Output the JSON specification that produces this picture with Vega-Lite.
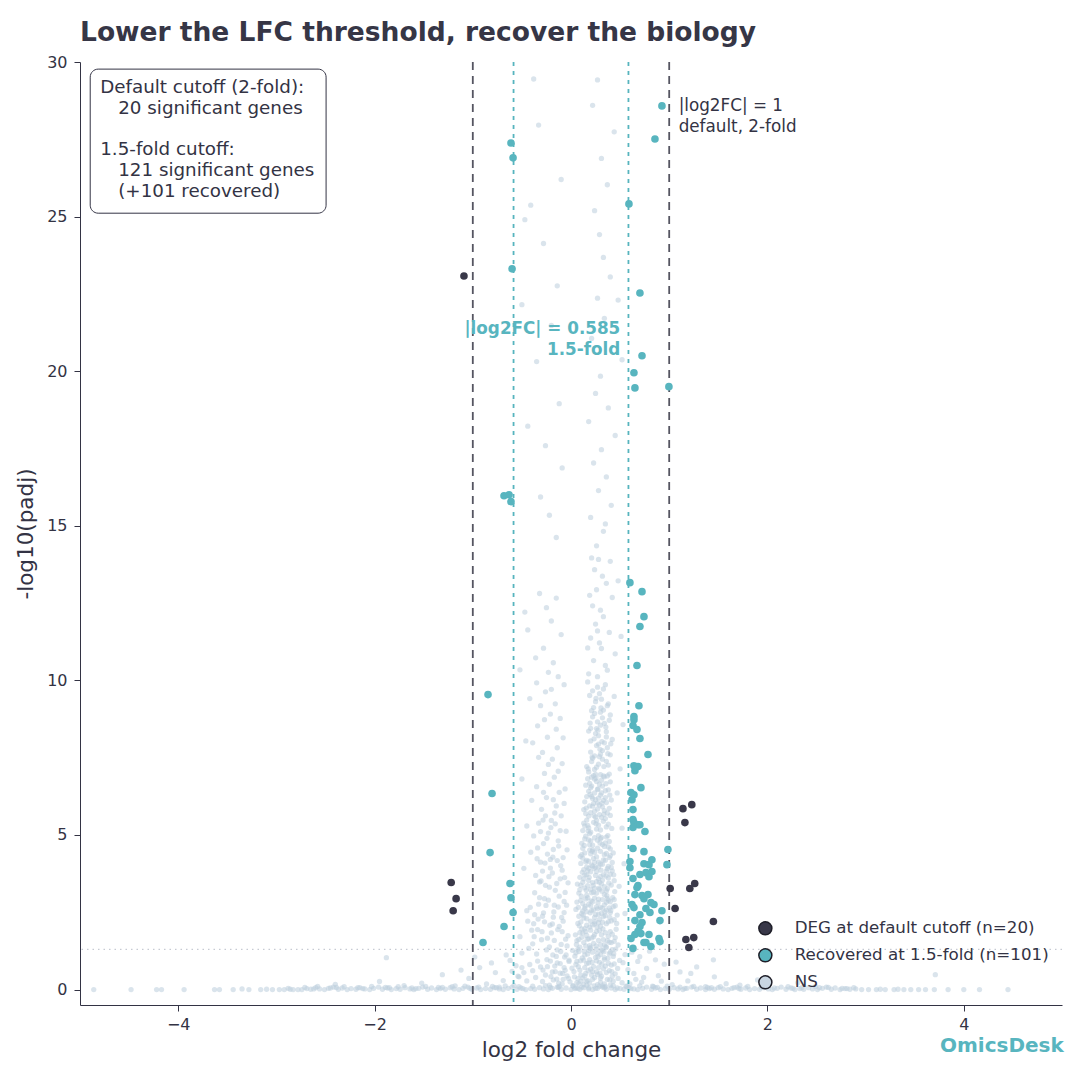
{
  "$schema": "https://vega.github.io/schema/vega-lite/v6.json",
  "autosize": {"type": "none"},
  "width": 982,
  "height": 943,
  "padding": {"left": 80, "top": 62, "right": 18, "bottom": 75},
  "background": "white",
  "title": {
    "text": "Lower the LFC threshold, recover the biology",
    "anchor": "start",
    "frame": "group",
    "font": "DejaVu Sans",
    "fontSize": 26.5,
    "fontWeight": "bold",
    "color": "#363646",
    "offset": 8
  },
  "config": {
    "view": {"stroke": null},
    "font": "DejaVu Sans",
    "axis": {
      "grid": false,
      "domainColor": "#333344",
      "domainWidth": 1,
      "tickColor": "#333344",
      "tickSize": 6,
      "labelColor": "#333344",
      "labelFontSize": 16,
      "labelFont": "DejaVu Sans",
      "titleColor": "#333344",
      "titleFontSize": 21.5,
      "titleFont": "DejaVu Sans",
      "titleFontWeight": "normal"
    }
  },
  "datasets": {
    "ns": [
      {"x":-4.86,"y":0},{"x":-4.48,"y":0},{"x":-4.22,"y":0},{"x":-4.17,"y":0},{"x":-3.94,"y":0},{"x":-3.63,"y":0},{"x":-3.58,"y":0},{"x":-3.44,"y":0},{"x":-3.28,"y":0},{"x":-3.16,"y":0},{"x":-3.04,"y":0},{"x":-2.97,"y":0},{"x":-2.92,"y":0},{"x":-2.86,"y":0.01},{"x":-2.83,"y":0},{"x":-2.78,"y":0},
      {"x":-2.74,"y":0},{"x":-2.69,"y":0.03},{"x":-2.65,"y":0.01},{"x":-2.6,"y":0.06},{"x":-2.56,"y":0.02},{"x":-2.51,"y":0},{"x":-2.47,"y":0.04},{"x":-2.42,"y":0.08},{"x":-2.37,"y":0.01},{"x":-2.33,"y":0.05},
      {"x":-2.28,"y":0},{"x":-2.24,"y":0.03},{"x":-2.19,"y":0.01},{"x":-2.15,"y":0.06},{"x":-2.1,"y":0.02},{"x":-2.05,"y":0},{"x":-2.01,"y":0.04},{"x":-1.96,"y":0.08},{"x":-1.92,"y":0.01},{"x":-1.87,"y":0.05},
      {"x":-1.83,"y":0},{"x":-1.78,"y":0.03},{"x":-1.74,"y":0.01},{"x":-1.69,"y":0.06},{"x":-1.64,"y":0.02},{"x":-1.6,"y":0},{"x":-1.55,"y":0.04},{"x":-1.51,"y":0.08},{"x":-1.46,"y":0.01},{"x":-1.42,"y":0.05},
      {"x":-1.37,"y":0},{"x":-1.33,"y":0.03},{"x":-1.28,"y":0.01},{"x":-1.23,"y":0.06},{"x":-1.19,"y":0.02},{"x":-1.14,"y":0},{"x":-1.1,"y":0.04},{"x":-1.05,"y":0.08},{"x":-1.01,"y":0.01},{"x":-0.96,"y":0.05},
      {"x":-0.92,"y":0},{"x":-0.87,"y":0.03},{"x":-0.82,"y":0.01},{"x":-0.78,"y":0.06},{"x":-0.73,"y":0.02},{"x":-0.69,"y":0},{"x":-0.64,"y":0.04},{"x":-0.6,"y":0.08},{"x":-0.55,"y":0.01},{"x":-0.51,"y":0.05},
      {"x":-0.46,"y":0},{"x":-0.41,"y":0.03},{"x":-0.37,"y":0.01},{"x":-0.32,"y":0.06},{"x":-0.28,"y":0.02},{"x":-0.23,"y":0},{"x":-0.19,"y":0.04},{"x":-0.14,"y":0.08},{"x":-0.1,"y":0.01},{"x":-0.05,"y":0.05},
      {"x":0,"y":0},{"x":0.04,"y":0.03},{"x":0.09,"y":0.01},{"x":0.13,"y":0.06},{"x":0.18,"y":0.02},{"x":0.22,"y":0},{"x":0.27,"y":0.04},{"x":0.32,"y":0.08},{"x":0.36,"y":0.01},{"x":0.41,"y":0.05},
      {"x":0.45,"y":0},{"x":0.5,"y":0.03},{"x":0.54,"y":0.01},{"x":0.59,"y":0.06},{"x":0.64,"y":0.02},{"x":0.68,"y":0},{"x":0.73,"y":0.04},{"x":0.77,"y":0.08},{"x":0.82,"y":0.01},{"x":0.86,"y":0.05},
      {"x":0.91,"y":0},{"x":0.96,"y":0.03},{"x":1,"y":0.01},{"x":1.05,"y":0.06},{"x":1.09,"y":0.02},{"x":1.14,"y":0},{"x":1.18,"y":0.04},{"x":1.23,"y":0.08},{"x":1.28,"y":0.01},{"x":1.32,"y":0.05},
      {"x":1.37,"y":0},{"x":1.41,"y":0.03},{"x":1.46,"y":0.01},{"x":1.5,"y":0.06},{"x":1.55,"y":0.02},{"x":1.6,"y":0},{"x":1.64,"y":0.04},{"x":1.69,"y":0.08},{"x":1.73,"y":0.01},{"x":1.78,"y":0.05},
      {"x":1.82,"y":0},{"x":1.87,"y":0.03},{"x":1.92,"y":0.01},{"x":1.96,"y":0.06},{"x":2.01,"y":0.02},{"x":2.05,"y":0},{"x":2.1,"y":0.04},{"x":2.14,"y":0.08},{"x":2.19,"y":0.01},{"x":2.24,"y":0.05},
      {"x":2.28,"y":0},{"x":2.33,"y":0.03},{"x":2.37,"y":0.01},{"x":2.42,"y":0.06},{"x":2.46,"y":0.02},{"x":2.51,"y":0},{"x":2.56,"y":0.04},{"x":2.6,"y":0.08},{"x":2.65,"y":0.01},{"x":2.69,"y":0.05},
      {"x":2.74,"y":0},{"x":2.79,"y":0.03},{"x":2.84,"y":0.01},{"x":2.9,"y":0.02},
      {"x":2.96,"y":0},{"x":3.03,"y":0},{"x":3.11,"y":0},{"x":3.2,"y":0},{"x":3.29,"y":0},{"x":3.39,"y":0},{"x":3.46,"y":0},{"x":3.54,"y":0},{"x":3.61,"y":0},{"x":3.7,"y":0},{"x":3.84,"y":0},{"x":4.0,"y":0},{"x":4.16,"y":0},{"x":4.45,"y":0},
      {"x":-2.71,"y":0.07},{"x":-2.58,"y":0.1},{"x":-2.45,"y":0.05},{"x":-2.31,"y":0.09},{"x":-2.17,"y":0.06},{"x":-2.03,"y":0.1},{"x":-1.89,"y":0.07},{"x":-1.76,"y":0.09},{"x":-1.62,"y":0.05},{"x":-1.48,"y":0.1},
      {"x":-1.35,"y":0.07},{"x":-1.21,"y":0.09},{"x":-1.08,"y":0.11},{"x":-0.94,"y":0.08},{"x":-0.8,"y":0.1},{"x":-0.67,"y":0.12},{"x":-0.53,"y":0.09},{"x":-0.39,"y":0.11},{"x":-0.26,"y":0.13},{"x":-0.12,"y":0.1},
      {"x":0.02,"y":0.12},{"x":0.16,"y":0.14},{"x":0.29,"y":0.11},{"x":0.43,"y":0.13},{"x":0.57,"y":0.1},{"x":0.7,"y":0.12},{"x":0.84,"y":0.09},{"x":0.98,"y":0.11},{"x":1.11,"y":0.08},{"x":1.25,"y":0.1},
      {"x":1.39,"y":0.07},{"x":1.52,"y":0.09},{"x":1.66,"y":0.06},{"x":1.8,"y":0.1},{"x":1.94,"y":0.07},{"x":2.07,"y":0.05},{"x":2.21,"y":0.09},{"x":2.35,"y":0.06},{"x":2.49,"y":0.1},{"x":2.62,"y":0.07},
      {"x":2.76,"y":0.04},{"x":2.88,"y":0.06},
      {"x":-2.88,"y":0.04},{"x":-2.62,"y":0.02},{"x":-2.39,"y":0.07},{"x":-2.12,"y":0.03},{"x":-1.85,"y":0.06},{"x":-1.58,"y":0.03},{"x":-1.31,"y":0.07},{"x":-1.03,"y":0.04},{"x":-0.76,"y":0.06},{"x":-0.49,"y":0.03},
      {"x":-0.21,"y":0.07},{"x":0.07,"y":0.04},{"x":0.34,"y":0.06},{"x":0.61,"y":0.03},{"x":0.88,"y":0.07},{"x":1.16,"y":0.04},{"x":1.43,"y":0.06},{"x":1.71,"y":0.03},{"x":1.98,"y":0.07},{"x":2.26,"y":0.04},
      {"x":2.53,"y":0.06},{"x":2.81,"y":0.03},{"x":-3.1,"y":0.01},{"x":3.15,"y":0.01},{"x":-3.35,"y":0.02},{"x":3.33,"y":0.01},

      {"x":-1.52,"y":0.21},{"x":-1.31,"y":0.48},{"x":-1.18,"y":0.12},{"x":-1.04,"y":0.36},{"x":-0.93,"y":0.71},{"x":-0.86,"y":0.18},{"x":-0.77,"y":0.55},{"x":-0.69,"y":0.29},{"x":-0.62,"y":0.94},{"x":-0.58,"y":0.13},
      {"x":-0.54,"y":0.43},{"x":-0.66,"y":1.12},{"x":-0.81,"y":0.86},{"x":-0.98,"y":1.05},{"x":-1.12,"y":0.63},{"x":-0.73,"y":0.08},{"x":-0.5,"y":1.18},{"x":-0.56,"y":0.77},{"x":0.6,"y":0.18},{"x":0.64,"y":0.52},
      {"x":0.68,"y":0.91},{"x":0.72,"y":0.24},{"x":0.77,"y":0.68},{"x":0.83,"y":0.11},{"x":0.89,"y":0.45},{"x":0.95,"y":0.82},{"x":1.03,"y":0.16},{"x":1.11,"y":0.57},{"x":1.19,"y":0.28},{"x":1.28,"y":0.73},
      {"x":1.37,"y":0.09},{"x":1.46,"y":0.41},{"x":1.58,"y":0.19},{"x":0.62,"y":1.21},{"x":0.7,"y":1.06},{"x":0.8,"y":1.24},{"x":0.58,"y":0.64},{"x":0.74,"y":0.39},{"x":0.86,"y":0.96},{"x":0.92,"y":0.27},
      {"x":1.07,"y":0.89},{"x":1.22,"y":0.52},{"x":1.72,"y":0.14},{"x":1.9,"y":0.31},{"x":-1.7,"y":0.13},{"x":-1.95,"y":0.26},{"x":0.55,"y":1.13},{"x":0.66,"y":0.33},{"x":0.53,"y":0.87},{"x":-0.6,"y":0.59},
      {"x":-1.88,"y":1.03},{"x":3.71,"y":0.48},{"x":1.45,"y":0.96},{"x":2.31,"y":0.22},{"x":-2.4,"y":0.17},

      {"x":0.02,"y":0.12},{"x":0.07,"y":0.35},{"x":0.11,"y":0.08},{"x":0.15,"y":0.52},{"x":0.19,"y":0.21},{"x":0.23,"y":0.74},{"x":0.27,"y":0.16},{"x":0.31,"y":0.43},{"x":0.35,"y":0.09},{"x":0.39,"y":0.61},
      {"x":0.43,"y":0.27},{"x":0.47,"y":0.05},{"x":-0.04,"y":0.44},{"x":-0.09,"y":0.18},{"x":-0.13,"y":0.07},{"x":0.05,"y":0.81},{"x":0.13,"y":0.95},{"x":0.21,"y":0.47},{"x":0.29,"y":0.88},{"x":0.37,"y":0.33},
      {"x":0.41,"y":0.79},{"x":0.09,"y":0.63},{"x":0.17,"y":0.29},{"x":0.25,"y":0.04},{"x":0.33,"y":0.67},{"x":0.45,"y":0.51},{"x":0.01,"y":0.69},{"x":-0.02,"y":0.91},{"x":0.52,"y":0.22},{"x":0.56,"y":0.11},
      {"x":-0.18,"y":0.31},{"x":-0.22,"y":0.14},{"x":0.12,"y":0.38},{"x":0.18,"y":0.86},{"x":0.26,"y":0.57},{"x":0.34,"y":0.97},{"x":0.08,"y":0.19},{"x":0.22,"y":0.33},{"x":0.3,"y":0.24},{"x":0.4,"y":0.14},
      {"x":0.06,"y":0.22},{"x":0.1,"y":0.47},{"x":0.14,"y":0.71},{"x":0.18,"y":0.06},{"x":0.22,"y":0.58},{"x":0.26,"y":0.93},{"x":0.3,"y":0.37},{"x":0.34,"y":0.18},{"x":0.38,"y":0.85},{"x":0.42,"y":0.43},
      {"x":0.03,"y":0.58},{"x":0.06,"y":0.91},{"x":0.1,"y":0.27},{"x":0.13,"y":0.16},{"x":0.16,"y":0.84},{"x":0.2,"y":0.66},{"x":0.24,"y":0.39},{"x":0.28,"y":0.71},{"x":0.32,"y":0.12},{"x":0.36,"y":0.55},
      {"x":0.44,"y":0.83},{"x":0.48,"y":0.36},{"x":-0.01,"y":0.25},{"x":-0.07,"y":0.71},{"x":-0.11,"y":0.53},{"x":0.05,"y":0.06},{"x":0.14,"y":0.44},{"x":0.19,"y":0.97},{"x":0.27,"y":0.49},{"x":0.35,"y":0.76},
      {"x":0.035,"y":0.41},{"x":0.075,"y":0.74},{"x":0.115,"y":1.02},{"x":0.155,"y":0.27},{"x":0.195,"y":1.33},{"x":0.235,"y":0.12},{"x":0.275,"y":1.06},{"x":0.315,"y":0.82},{"x":0.355,"y":1.39},{"x":0.395,"y":0.31},
      {"x":0.435,"y":1.16},{"x":0.475,"y":0.68},{"x":0.015,"y":1.27},{"x":0.055,"y":1.46},{"x":0.095,"y":0.93},{"x":0.135,"y":1.24},{"x":0.175,"y":0.61},{"x":0.215,"y":0.88},{"x":0.255,"y":1.41},{"x":0.295,"y":0.53},
      {"x":0.335,"y":1.22},{"x":0.375,"y":1.01},{"x":0.415,"y":0.58},{"x":0.455,"y":1.31},{"x":0.495,"y":0.94},{"x":-0.025,"y":0.36},{"x":-0.065,"y":1.05},{"x":-0.105,"y":1.23},{"x":-0.145,"y":0.34},{"x":-0.185,"y":1.12},

      {"x":0.04,"y":1.08},{"x":0.09,"y":1.37},{"x":0.14,"y":1.12},{"x":0.18,"y":1.64},{"x":0.22,"y":1.21},{"x":0.26,"y":1.88},{"x":0.3,"y":1.45},{"x":0.34,"y":1.03},{"x":0.38,"y":1.72},{"x":0.42,"y":1.29},
      {"x":0.46,"y":1.95},{"x":0.07,"y":2.14},{"x":0.11,"y":2.46},{"x":0.16,"y":2.08},{"x":0.2,"y":2.71},{"x":0.24,"y":2.33},{"x":0.28,"y":2.92},{"x":0.32,"y":2.18},{"x":0.36,"y":2.57},{"x":0.4,"y":2.84},
      {"x":0.44,"y":2.26},{"x":0.06,"y":1.58},{"x":0.12,"y":1.83},{"x":0.19,"y":2.02},{"x":0.23,"y":1.49},{"x":0.27,"y":2.61},{"x":0.31,"y":1.77},{"x":0.35,"y":2.39},{"x":0.39,"y":1.16},{"x":0.43,"y":2.68},
      {"x":0.1,"y":2.88},{"x":0.15,"y":1.41},{"x":0.21,"y":2.55},{"x":0.25,"y":1.04},{"x":0.29,"y":2.27},{"x":0.33,"y":1.61},{"x":0.37,"y":2.95},{"x":0.41,"y":1.52},{"x":0.13,"y":2.31},{"x":0.17,"y":2.97},
      {"x":0.08,"y":1.23},{"x":0.26,"y":1.31},{"x":0.34,"y":2.74},{"x":0.48,"y":1.44},{"x":0.05,"y":2.59},{"x":0.2,"y":1.92},{"x":0.3,"y":2.05},{"x":0.38,"y":2.19},{"x":0.45,"y":1.68},{"x":0.14,"y":2.63},
      {"x":0.22,"y":2.84},{"x":0.18,"y":1.27},{"x":0.28,"y":1.59},{"x":0.32,"y":2.91},{"x":0.36,"y":1.36},{"x":0.11,"y":1.96},{"x":0.24,"y":2.12},{"x":0.4,"y":1.87},{"x":0.16,"y":1.75},{"x":0.3,"y":2.66},
      {"x":0.07,"y":1.31},{"x":0.11,"y":1.69},{"x":0.15,"y":1.88},{"x":0.19,"y":1.42},{"x":0.23,"y":1.71},{"x":0.27,"y":1.17},{"x":0.31,"y":1.29},{"x":0.35,"y":1.84},{"x":0.39,"y":1.53},{"x":0.43,"y":1.07},
      {"x":0.08,"y":2.37},{"x":0.12,"y":2.78},{"x":0.16,"y":2.52},{"x":0.2,"y":2.21},{"x":0.24,"y":2.96},{"x":0.28,"y":2.43},{"x":0.32,"y":2.63},{"x":0.36,"y":2.13},{"x":0.4,"y":2.49},{"x":0.44,"y":2.91},
      {"x":0.05,"y":1.19},{"x":0.09,"y":1.84},{"x":0.13,"y":1.52},{"x":0.17,"y":1.15},{"x":0.21,"y":1.67},{"x":0.25,"y":2.43},{"x":0.29,"y":1.91},{"x":0.33,"y":2.36},{"x":0.37,"y":1.58},{"x":0.41,"y":2.22},
      {"x":0.45,"y":2.71},{"x":0.06,"y":2.83},{"x":0.1,"y":2.19},{"x":0.14,"y":1.97},{"x":0.18,"y":2.76},{"x":0.22,"y":2.09},{"x":0.26,"y":2.67},{"x":0.3,"y":1.13},{"x":0.34,"y":1.44},{"x":0.38,"y":2.89},
      {"x":0.42,"y":1.79},{"x":0.47,"y":2.41},{"x":0.08,"y":1.62},{"x":0.12,"y":2.54},{"x":0.16,"y":2.29},{"x":0.2,"y":1.36},{"x":0.24,"y":1.78},{"x":0.28,"y":2.16},{"x":0.32,"y":1.26},{"x":0.36,"y":2.82},
      {"x":0.4,"y":1.21},{"x":0.44,"y":1.56},{"x":0.15,"y":2.93},{"x":0.23,"y":2.58},{"x":0.31,"y":2.47},{"x":0.39,"y":2.64},
      {"x":0.045,"y":1.77},{"x":0.085,"y":2.06},{"x":0.125,"y":2.41},{"x":0.165,"y":1.63},{"x":0.205,"y":2.87},{"x":0.245,"y":2.19},{"x":0.285,"y":3.28},{"x":0.325,"y":1.96},{"x":0.365,"y":3.04},{"x":0.405,"y":2.56},
      {"x":0.445,"y":3.17},{"x":0.065,"y":3.41},{"x":0.105,"y":3.02},{"x":0.145,"y":2.69},{"x":0.185,"y":3.63},{"x":0.225,"y":3.37},{"x":0.265,"y":2.02},{"x":0.305,"y":3.86},{"x":0.345,"y":2.51},{"x":0.385,"y":3.44},
      {"x":0.425,"y":2.97},{"x":0.465,"y":2.14},{"x":0.075,"y":2.66},{"x":0.115,"y":3.79},{"x":0.155,"y":3.21},{"x":0.195,"y":2.48},{"x":0.235,"y":3.92},{"x":0.275,"y":2.81},{"x":0.315,"y":3.18},{"x":0.355,"y":3.67},
      {"x":0.395,"y":2.33},{"x":0.435,"y":3.71},

      {"x":0.08,"y":3.12},{"x":0.12,"y":3.47},{"x":0.16,"y":3.05},{"x":0.2,"y":3.81},{"x":0.24,"y":3.28},{"x":0.28,"y":3.96},{"x":0.32,"y":3.54},{"x":0.36,"y":3.19},{"x":0.4,"y":3.73},{"x":0.1,"y":4.08},
      {"x":0.14,"y":4.42},{"x":0.18,"y":4.15},{"x":0.22,"y":4.67},{"x":0.26,"y":4.29},{"x":0.3,"y":4.88},{"x":0.34,"y":4.36},{"x":0.38,"y":4.61},{"x":0.42,"y":4.11},{"x":0.09,"y":3.63},{"x":0.13,"y":3.88},
      {"x":0.17,"y":3.36},{"x":0.21,"y":4.02},{"x":0.25,"y":3.69},{"x":0.29,"y":3.24},{"x":0.33,"y":4.19},{"x":0.37,"y":3.91},{"x":0.41,"y":3.38},{"x":0.11,"y":4.73},{"x":0.15,"y":4.96},{"x":0.19,"y":4.51},
      {"x":0.23,"y":3.15},{"x":0.27,"y":4.83},{"x":0.31,"y":3.42},{"x":0.35,"y":4.74},{"x":0.39,"y":4.27},{"x":0.16,"y":3.71},{"x":0.2,"y":4.39},{"x":0.24,"y":4.91},{"x":0.28,"y":3.58},{"x":0.32,"y":4.05},
      {"x":0.36,"y":3.83},{"x":0.18,"y":4.84},{"x":0.26,"y":3.49},{"x":0.3,"y":4.47},{"x":0.22,"y":3.99},{"x":0.14,"y":3.29},{"x":0.34,"y":3.07},{"x":0.12,"y":4.25},{"x":0.4,"y":4.55},{"x":0.44,"y":3.52},
      {"x":0.1,"y":3.37},{"x":0.14,"y":3.71},{"x":0.18,"y":3.92},{"x":0.22,"y":3.46},{"x":0.26,"y":3.12},{"x":0.3,"y":3.66},{"x":0.34,"y":3.33},{"x":0.38,"y":3.98},{"x":0.42,"y":3.84},{"x":0.12,"y":4.57},
      {"x":0.16,"y":4.18},{"x":0.2,"y":4.81},{"x":0.24,"y":4.44},{"x":0.28,"y":4.12},{"x":0.32,"y":4.69},{"x":0.36,"y":4.93},{"x":0.4,"y":4.33},
      {"x":0.09,"y":3.23},{"x":0.13,"y":3.58},{"x":0.17,"y":3.84},{"x":0.21,"y":3.13},{"x":0.25,"y":3.96},{"x":0.29,"y":3.47},{"x":0.33,"y":3.71},{"x":0.37,"y":3.26},{"x":0.41,"y":3.95},{"x":0.11,"y":4.36},
      {"x":0.15,"y":4.13},{"x":0.19,"y":4.68},{"x":0.23,"y":4.24},{"x":0.27,"y":4.57},{"x":0.31,"y":4.92},{"x":0.35,"y":4.18},{"x":0.39,"y":4.79},{"x":0.43,"y":4.42},{"x":0.14,"y":4.87},{"x":0.22,"y":4.52},
      {"x":0.3,"y":4.06},{"x":0.38,"y":3.61},{"x":0.18,"y":3.53},{"x":0.26,"y":3.82},{"x":0.34,"y":4.63},{"x":0.2,"y":3.24},{"x":0.28,"y":4.98},{"x":0.36,"y":4.4},{"x":0.16,"y":3.97},{"x":0.24,"y":4.11},
      {"x":0.095,"y":4.31},{"x":0.135,"y":4.66},{"x":0.175,"y":5.13},{"x":0.215,"y":4.47},{"x":0.255,"y":5.36},{"x":0.295,"y":4.74},{"x":0.335,"y":5.67},{"x":0.375,"y":4.98},{"x":0.415,"y":5.21},

      {"x":0.12,"y":5.14},{"x":0.16,"y":5.48},{"x":0.2,"y":5.09},{"x":0.24,"y":5.77},{"x":0.28,"y":5.32},{"x":0.32,"y":5.91},{"x":0.36,"y":5.26},{"x":0.4,"y":5.63},{"x":0.14,"y":6.07},{"x":0.18,"y":6.41},
      {"x":0.22,"y":6.18},{"x":0.26,"y":6.73},{"x":0.3,"y":6.29},{"x":0.34,"y":6.88},{"x":0.38,"y":6.46},{"x":0.15,"y":5.69},{"x":0.19,"y":5.94},{"x":0.23,"y":5.41},{"x":0.27,"y":6.03},{"x":0.31,"y":5.57},
      {"x":0.35,"y":6.21},{"x":0.39,"y":5.86},{"x":0.17,"y":6.82},{"x":0.21,"y":6.58},{"x":0.25,"y":6.96},{"x":0.29,"y":6.64},{"x":0.33,"y":6.12},{"x":0.37,"y":6.91},{"x":0.2,"y":5.72},{"x":0.26,"y":5.19},
      {"x":0.3,"y":6.95},{"x":0.24,"y":6.36},{"x":0.13,"y":5.38},{"x":0.41,"y":6.13},{"x":0.18,"y":5.23},{"x":0.13,"y":5.82},{"x":0.17,"y":5.31},{"x":0.21,"y":6.24},{"x":0.25,"y":5.58},{"x":0.29,"y":5.97},
      {"x":0.33,"y":5.44},{"x":0.37,"y":5.71},{"x":0.19,"y":6.67},{"x":0.23,"y":6.92},{"x":0.27,"y":6.47},{"x":0.31,"y":6.77},{"x":0.35,"y":6.43},
      {"x":0.14,"y":5.29},{"x":0.18,"y":5.61},{"x":0.22,"y":5.93},{"x":0.26,"y":5.47},{"x":0.3,"y":5.16},{"x":0.34,"y":5.79},{"x":0.38,"y":5.35},{"x":0.16,"y":6.24},{"x":0.2,"y":6.53},{"x":0.24,"y":6.81},
      {"x":0.28,"y":6.19},{"x":0.32,"y":6.58},{"x":0.36,"y":6.05},{"x":0.4,"y":6.72},{"x":0.15,"y":6.61},{"x":0.19,"y":5.04},{"x":0.23,"y":6.02},{"x":0.27,"y":5.84},{"x":0.31,"y":6.36},{"x":0.35,"y":5.53},
      {"x":0.39,"y":6.97},{"x":0.21,"y":6.87},{"x":0.29,"y":5.66},{"x":0.33,"y":6.91},{"x":0.25,"y":6.14},
      {"x":0.155,"y":5.87},{"x":0.195,"y":6.31},{"x":0.235,"y":5.62},{"x":0.275,"y":6.49},{"x":0.315,"y":6.03},{"x":0.355,"y":6.66},{"x":0.395,"y":6.29},

      {"x":0.16,"y":7.21},{"x":0.2,"y":7.68},{"x":0.24,"y":7.12},{"x":0.28,"y":7.94},{"x":0.32,"y":7.45},{"x":0.36,"y":8.17},{"x":0.4,"y":7.59},{"x":0.18,"y":8.36},{"x":0.22,"y":8.82},{"x":0.26,"y":8.44},
      {"x":0.3,"y":8.97},{"x":0.34,"y":8.61},{"x":0.38,"y":9.24},{"x":0.42,"y":8.09},{"x":0.19,"y":9.51},{"x":0.23,"y":9.12},{"x":0.27,"y":9.78},{"x":0.31,"y":9.39},{"x":0.35,"y":9.86},{"x":0.21,"y":7.37},
      {"x":0.25,"y":8.28},{"x":0.29,"y":7.53},{"x":0.33,"y":9.04},{"x":0.37,"y":7.82},{"x":0.17,"y":9.95},{"x":0.44,"y":9.48},{"x":0.26,"y":7.89},{"x":0.3,"y":8.55},{"x":0.22,"y":9.66},{"x":0.39,"y":8.71},
      {"x":0.28,"y":7.29},{"x":0.24,"y":7.56},{"x":0.32,"y":7.73},{"x":0.2,"y":8.04},{"x":0.36,"y":7.38},
      {"x":0.18,"y":7.04},{"x":0.22,"y":7.48},{"x":0.26,"y":7.19},{"x":0.3,"y":7.61},{"x":0.34,"y":7.98},{"x":0.38,"y":7.26},{"x":0.2,"y":8.45},{"x":0.24,"y":8.93},{"x":0.28,"y":8.21},{"x":0.32,"y":8.79},
      {"x":0.36,"y":8.34},{"x":0.4,"y":8.88},{"x":0.25,"y":9.31},{"x":0.29,"y":9.57},{"x":0.33,"y":9.72},{"x":0.37,"y":9.18},{"x":0.21,"y":9.02},{"x":0.27,"y":8.66},
      {"x":0.175,"y":7.14},{"x":0.215,"y":7.52},{"x":0.255,"y":6.84},{"x":0.295,"y":7.77},{"x":0.335,"y":7.21},{"x":0.375,"y":7.63},{"x":0.235,"y":8.11},{"x":0.275,"y":8.39},{"x":0.315,"y":8.02},{"x":0.355,"y":8.49},
      {"x":0.255,"y":9.42},{"x":0.305,"y":9.11},{"x":0.195,"y":8.62},{"x":0.405,"y":7.95},

      {"x":0.18,"y":10.21},{"x":0.23,"y":10.64},{"x":0.27,"y":10.12},{"x":0.31,"y":11.03},{"x":0.35,"y":10.48},{"x":0.2,"y":11.37},{"x":0.25,"y":11.82},{"x":0.29,"y":11.21},{"x":0.33,"y":12.06},{"x":0.39,"y":11.55},
      {"x":0.22,"y":12.41},{"x":0.26,"y":12.93},{"x":0.3,"y":12.27},{"x":0.36,"y":13.14},{"x":0.42,"y":12.68},{"x":0.24,"y":13.58},{"x":0.28,"y":13.91},{"x":0.32,"y":13.37},{"x":0.19,"y":12.75},{"x":0.45,"y":10.86},
      {"x":0.17,"y":11.05},{"x":0.37,"y":10.33},{"x":0.27,"y":11.6},{"x":0.48,"y":13.22},{"x":0.21,"y":13.96},

      {"x":0.26,"y":14.35},{"x":0.33,"y":14.82},{"x":0.2,"y":15.27},{"x":0.41,"y":15.66},{"x":0.28,"y":16.14},{"x":0.36,"y":16.58},{"x":0.23,"y":17.03},{"x":0.31,"y":17.46},{"x":0.45,"y":17.92},{"x":0.18,"y":18.37},
      {"x":0.38,"y":18.81},{"x":0.25,"y":19.28},{"x":0.3,"y":19.84},{"x":0.52,"y":20.37},{"x":0.21,"y":21.06},{"x":0.34,"y":21.71},{"x":0.27,"y":22.36},{"x":0.4,"y":23.05},{"x":0.33,"y":23.68},{"x":0.29,"y":24.42},
      {"x":0.24,"y":25.19},{"x":0.37,"y":26.03},{"x":0.31,"y":26.88},{"x":0.44,"y":27.74},{"x":0.27,"y":29.42},{"x":0.22,"y":28.6},{"x":0.35,"y":15.06},{"x":0.4,"y":13.85},{"x":-0.15,"y":14.62},{"x":-0.22,"y":15.34},
      {"x":-0.31,"y":15.93},{"x":-0.09,"y":16.87},{"x":-0.26,"y":17.59},{"x":-0.44,"y":18.22},{"x":-0.12,"y":18.95},{"x":-0.35,"y":20.31},{"x":-0.2,"y":21.48},{"x":-0.5,"y":22.15},{"x":-0.14,"y":22.76},{"x":-0.28,"y":24.13},
      {"x":-0.41,"y":25.37},{"x":-0.33,"y":27.96},{"x":-0.38,"y":29.45},{"x":-0.1,"y":26.2},{"x":-0.47,"y":24.9},{"x":0.48,"y":22.3},

      {"x":-0.05,"y":1.12},{"x":-0.1,"y":1.46},{"x":-0.15,"y":1.07},{"x":-0.2,"y":1.83},{"x":-0.25,"y":1.28},{"x":-0.3,"y":1.61},{"x":-0.35,"y":1.15},{"x":-0.4,"y":1.92},{"x":-0.08,"y":2.21},{"x":-0.13,"y":2.67},
      {"x":-0.18,"y":2.34},{"x":-0.23,"y":2.89},{"x":-0.28,"y":2.48},{"x":-0.33,"y":2.76},{"x":-0.38,"y":2.13},{"x":-0.45,"y":2.55},{"x":-0.06,"y":0.62},{"x":-0.11,"y":0.84},{"x":-0.16,"y":0.58},{"x":-0.21,"y":0.92},
      {"x":-0.26,"y":0.47},{"x":-0.31,"y":0.73},{"x":-0.36,"y":0.39},{"x":-0.42,"y":0.81},{"x":-0.48,"y":0.55},{"x":-0.03,"y":1.74},{"x":-0.12,"y":2.04},{"x":-0.22,"y":1.38},{"x":-0.27,"y":2.19},{"x":-0.32,"y":2.97},
      {"x":-0.07,"y":2.85},{"x":-0.17,"y":1.59},{"x":-0.37,"y":2.42},{"x":-0.43,"y":1.33},{"x":-0.52,"y":1.71},
      {"x":-0.06,"y":3.14},{"x":-0.11,"y":3.58},{"x":-0.16,"y":3.21},{"x":-0.21,"y":3.93},{"x":-0.26,"y":3.37},{"x":-0.31,"y":4.12},{"x":-0.36,"y":3.69},{"x":-0.41,"y":4.44},{"x":-0.08,"y":4.27},{"x":-0.13,"y":4.81},
      {"x":-0.18,"y":4.53},{"x":-0.23,"y":5.06},{"x":-0.28,"y":4.72},{"x":-0.33,"y":5.38},{"x":-0.38,"y":4.97},{"x":-0.1,"y":5.62},{"x":-0.15,"y":5.94},{"x":-0.2,"y":5.47},{"x":-0.25,"y":6.21},{"x":-0.3,"y":5.83},
      {"x":-0.35,"y":6.56},{"x":-0.12,"y":6.38},{"x":-0.17,"y":6.87},{"x":-0.22,"y":6.64},{"x":-0.27,"y":6.99},{"x":-0.4,"y":6.12},{"x":-0.05,"y":5.12},{"x":-0.07,"y":6.02},{"x":-0.45,"y":5.29},{"x":-0.19,"y":3.77},
      {"x":-0.09,"y":7.31},{"x":-0.14,"y":7.82},{"x":-0.19,"y":7.45},{"x":-0.24,"y":8.16},{"x":-0.29,"y":7.67},{"x":-0.34,"y":8.53},{"x":-0.39,"y":7.98},{"x":-0.11,"y":8.77},{"x":-0.16,"y":9.24},{"x":-0.21,"y":8.91},
      {"x":-0.26,"y":9.63},{"x":-0.31,"y":9.18},{"x":-0.13,"y":10.12},{"x":-0.18,"y":10.57},{"x":-0.23,"y":10.26},{"x":-0.28,"y":11.04},{"x":-0.36,"y":10.73},{"x":-0.1,"y":11.48},{"x":-0.2,"y":11.92},{"x":-0.25,"y":12.35},
      {"x":-0.32,"y":12.81},{"x":-0.15,"y":12.66},{"x":-0.07,"y":9.86},{"x":-0.42,"y":9.41},{"x":-0.44,"y":11.63},
      {"x":-0.04,"y":1.41},{"x":-0.09,"y":1.87},{"x":-0.14,"y":1.28},{"x":-0.19,"y":2.12},{"x":-0.24,"y":1.66},{"x":-0.29,"y":2.37},{"x":-0.34,"y":1.94},{"x":-0.39,"y":1.48},{"x":-0.44,"y":2.21},{"x":-0.07,"y":2.49},
      {"x":-0.12,"y":3.02},{"x":-0.17,"y":2.73},{"x":-0.22,"y":3.31},{"x":-0.27,"y":2.94},{"x":-0.32,"y":3.48},{"x":-0.37,"y":3.13},{"x":-0.09,"y":3.86},{"x":-0.14,"y":4.17},{"x":-0.24,"y":4.38},{"x":-0.29,"y":3.83},
      {"x":-0.34,"y":4.58},{"x":-0.04,"y":4.52},{"x":-0.11,"y":5.14},{"x":-0.16,"y":5.36},{"x":-0.21,"y":4.21},{"x":-0.26,"y":5.62},{"x":-0.31,"y":5.11},{"x":-0.06,"y":6.49},{"x":-0.13,"y":7.06},{"x":-0.18,"y":6.14},
      {"x":-0.23,"y":7.28},{"x":-0.28,"y":6.38},{"x":-0.33,"y":7.51},{"x":-0.08,"y":8.14},{"x":-0.15,"y":8.42},{"x":-0.2,"y":9.71},{"x":-0.27,"y":8.73},{"x":-0.35,"y":9.92},{"x":-0.03,"y":3.45},{"x":-0.02,"y":0.95},
      {"x":-0.08,"y":0.33},{"x":-0.14,"y":0.86},{"x":-0.19,"y":0.57},{"x":-0.24,"y":0.74},{"x":-0.29,"y":0.26},{"x":-0.34,"y":0.92},{"x":-0.39,"y":0.61},{"x":-0.45,"y":0.28},{"x":-0.5,"y":0.71},{"x":-0.53,"y":0.41},
      {"x":-0.48,"y":3.92},{"x":-0.5,"y":6.81},{"x":-0.46,"y":8.04},{"x":-0.52,"y":10.34},{"x":-0.47,"y":12.21},{"x":0.49,"y":3.34},{"x":0.52,"y":5.22},{"x":0.5,"y":7.14},{"x":0.53,"y":8.57},{"x":0.51,"y":11.42},
      {"x":0.47,"y":6.36},{"x":0.55,"y":2.46},{"x":0.54,"y":4.07},
      {"x":-0.055,"y":1.63},{"x":-0.095,"y":2.33},{"x":-0.135,"y":1.94},{"x":-0.175,"y":2.51},{"x":-0.215,"y":2.08},{"x":-0.255,"y":2.72},{"x":-0.295,"y":1.87},{"x":-0.335,"y":2.28},{"x":-0.375,"y":1.71},{"x":-0.415,"y":2.66},
      {"x":-0.065,"y":3.62},{"x":-0.105,"y":4.01},{"x":-0.145,"y":3.43},{"x":-0.185,"y":4.28},{"x":-0.225,"y":3.65},{"x":-0.265,"y":4.09},{"x":-0.305,"y":3.51},{"x":-0.345,"y":4.23},{"x":-0.125,"y":4.64},{"x":-0.165,"y":5.71},
      {"x":-0.205,"y":5.24},{"x":-0.245,"y":4.89},{"x":-0.285,"y":5.48},{"x":-0.045,"y":2.73},{"x":-0.085,"y":0.52},{"x":-0.125,"y":0.21},{"x":-0.165,"y":0.76},{"x":-0.205,"y":0.42},{"x":-0.245,"y":0.97},{"x":-0.285,"y":0.63}
    ],
    "sig": [
      {"x":-1.09,"y":23.08,"g":"D"},{"x":-1.22,"y":3.46,"g":"D"},{"x":-1.17,"y":2.94,"g":"D"},{"x":-1.2,"y":2.55,"g":"D"},{"x":1.14,"y":5.85,"g":"D"},
      {"x":1.23,"y":5.98,"g":"D"},{"x":1.16,"y":5.4,"g":"D"},{"x":1.01,"y":3.27,"g":"D"},{"x":1.21,"y":3.27,"g":"D"},{"x":1.26,"y":3.43,"g":"D"},
      {"x":1.06,"y":2.62,"g":"D"},{"x":1.45,"y":2.2,"g":"D"},{"x":1.17,"y":1.62,"g":"D"},{"x":1.25,"y":1.68,"g":"D"},{"x":1.2,"y":1.36,"g":"D"},

      {"x":0.926,"y":28.58,"g":"R"},{"x":0.855,"y":27.51,"g":"R"},{"x":-0.611,"y":27.38,"g":"R"},{"x":-0.59,"y":26.9,"g":"R"},{"x":0.59,"y":25.41,"g":"R"},
      {"x":-0.6,"y":23.31,"g":"R"},{"x":0.702,"y":22.53,"g":"R"},{"x":0.723,"y":20.5,"g":"R"},{"x":0.641,"y":19.95,"g":"R"},{"x":0.651,"y":19.46,"g":"R"},
      {"x":0.997,"y":19.5,"g":"R"},{"x":-0.682,"y":15.97,"g":"R"},{"x":-0.631,"y":16.0,"g":"R"},{"x":-0.611,"y":15.78,"g":"R"},{"x":0.6,"y":13.16,"g":"R"},
      {"x":0.723,"y":12.87,"g":"R"},{"x":0.743,"y":12.06,"g":"R"},{"x":0.702,"y":11.74,"g":"R"},{"x":0.672,"y":10.48,"g":"R"},{"x":-0.845,"y":9.54,"g":"R"},
      {"x":0.692,"y":9.18,"g":"R"},{"x":0.641,"y":8.83,"g":"R"},{"x":0.641,"y":8.73,"g":"R"},{"x":0.631,"y":8.54,"g":"R"},{"x":0.672,"y":8.41,"g":"R"},
      {"x":0.702,"y":8.12,"g":"R"},{"x":0.784,"y":7.6,"g":"R"},{"x":0.641,"y":7.24,"g":"R"},{"x":0.682,"y":7.21,"g":"R"},{"x":0.651,"y":7.08,"g":"R"},
      {"x":0.712,"y":6.53,"g":"R"},{"x":-0.804,"y":6.34,"g":"R"},{"x":0.611,"y":6.37,"g":"R"},{"x":0.641,"y":6.3,"g":"R"},{"x":0.621,"y":6.14,"g":"R"},
      {"x":0.631,"y":5.82,"g":"R"},{"x":0.631,"y":5.5,"g":"R"},{"x":0.641,"y":5.4,"g":"R"},{"x":0.682,"y":5.33,"g":"R"},{"x":0.702,"y":5.33,"g":"R"},
      {"x":0.631,"y":5.24,"g":"R"},{"x":0.753,"y":5.11,"g":"R"},{"x":0.631,"y":4.56,"g":"R"},{"x":0.743,"y":4.46,"g":"R"},{"x":0.987,"y":4.53,"g":"R"},
      {"x":0.6,"y":4.14,"g":"R"},{"x":0.824,"y":4.2,"g":"R"},{"x":0.743,"y":4.07,"g":"R"},{"x":0.794,"y":4.04,"g":"R"},{"x":0.6,"y":3.94,"g":"R"},
      {"x":0.977,"y":4.04,"g":"R"},{"x":0.763,"y":3.78,"g":"R"},{"x":0.824,"y":3.82,"g":"R"},{"x":0.702,"y":3.72,"g":"R"},{"x":0.794,"y":3.65,"g":"R"},
      {"x":0.631,"y":3.59,"g":"R"},{"x":0.682,"y":3.36,"g":"R"},{"x":0.672,"y":3.3,"g":"R"},{"x":0.651,"y":3.07,"g":"R"},{"x":0.723,"y":3.04,"g":"R"},
      {"x":0.784,"y":3.07,"g":"R"},{"x":0.743,"y":2.94,"g":"R"},{"x":0.814,"y":2.81,"g":"R"},{"x":0.845,"y":2.75,"g":"R"},{"x":0.621,"y":2.75,"g":"R"},
      {"x":0.763,"y":2.62,"g":"R"},{"x":0.641,"y":2.65,"g":"R"},{"x":0.804,"y":2.49,"g":"R"},{"x":0.926,"y":2.55,"g":"R"},{"x":0.702,"y":2.42,"g":"R"},
      {"x":0.651,"y":2.23,"g":"R"},{"x":0.906,"y":2.23,"g":"R"},{"x":0.723,"y":2.17,"g":"R"},{"x":0.702,"y":2.04,"g":"R"},{"x":0.682,"y":1.88,"g":"R"},
      {"x":0.651,"y":1.78,"g":"R"},{"x":0.712,"y":1.81,"g":"R"},{"x":0.794,"y":1.78,"g":"R"},{"x":0.611,"y":1.65,"g":"R"},{"x":0.896,"y":1.65,"g":"R"},
      {"x":0.743,"y":1.52,"g":"R"},{"x":0.763,"y":1.52,"g":"R"},{"x":0.814,"y":1.39,"g":"R"},{"x":0.906,"y":1.55,"g":"R"},{"x":0.631,"y":1.33,"g":"R"},
      {"x":-0.621,"y":3.43,"g":"R"},{"x":-0.611,"y":2.97,"g":"R"},{"x":-0.59,"y":2.49,"g":"R"},{"x":-0.682,"y":2.04,"g":"R"},{"x":-0.896,"y":1.52,"g":"R"},
      {"x":-0.824,"y":4.43,"g":"R"}
    ]
  },
  "layer": [
    {
      "data": {"values": [{"padj_cut": 1.30103}]},
      "mark": {"type": "rule", "color": "#b9bec8", "strokeWidth": 1, "strokeDash": [1.5, 4]},
      "encoding": {
        "y": {"field": "padj_cut", "type": "quantitative", "scale": {"domain": [-0.5, 30], "nice": false, "zero": false}}
      }
    },
    {
      "data": {"name": "ns"},
      "mark": {"type": "circle", "size": 28, "color": "#bccddc", "opacity": 0.55},
      "encoding": {
        "x": {"field": "x", "type": "quantitative", "scale": {"domain": [-5, 5], "nice": false, "zero": false},
              "axis": {"title": "log2 fold change", "values": [-4, -2, 0, 2, 4], "format": "d", "labelPadding": 5, "titlePadding": 7}},
        "y": {"field": "y", "type": "quantitative", "scale": {"domain": [-0.5, 30], "nice": false, "zero": false},
              "axis": {"title": "-log10(padj)", "values": [0, 5, 10, 15, 20, 25, 30], "format": "d", "labelPadding": 7, "titlePadding": 9}}
      }
    },
    {
      "data": {"values": [{"lfc": -1}, {"lfc": 1}]},
      "mark": {"type": "rule", "color": "#555561", "strokeWidth": 1.8, "strokeDash": [8, 6]},
      "encoding": {"x": {"field": "lfc", "type": "quantitative", "scale": {"domain": [-5, 5], "nice": false, "zero": false}}}
    },
    {
      "data": {"values": [{"lfc": -0.585}, {"lfc": 0.585}]},
      "mark": {"type": "rule", "color": "#56b4be", "strokeWidth": 1.8, "strokeDash": [4, 5]},
      "encoding": {"x": {"field": "lfc", "type": "quantitative", "scale": {"domain": [-5, 5], "nice": false, "zero": false}}}
    },
    {
      "data": {"name": "sig"},
      "mark": {"type": "point", "filled": true, "shape": "circle", "size": 58, "opacity": 1},
      "encoding": {
        "x": {"field": "x", "type": "quantitative", "scale": {"domain": [-5, 5], "nice": false, "zero": false}},
        "y": {"field": "y", "type": "quantitative", "scale": {"domain": [-0.5, 30], "nice": false, "zero": false}},
        "color": {
          "field": "g", "type": "nominal",
          "scale": {"domain": ["D", "R", "N"], "range": ["#393849", "#58b5bf", "#c9d6e2"]},
          "legend": {
            "title": null,
            "orient": "none",
            "legendX": 677,
            "legendY": 858,
            "padding": 0,
            "labelExpr": "datum.label == 'D' ? 'DEG at default cutoff (n=20)' : datum.label == 'R' ? 'Recovered at 1.5-fold (n=101)' : 'NS'",
            "labelLimit": 0,
            "labelFontSize": 16.7,
            "labelFont": "DejaVu Sans",
            "labelColor": "#333344",
            "labelOffset": 21,
            "symbolType": "circle",
            "symbolSize": 170,
            "symbolOpacity": 1,
            "symbolStrokeColor": "#1e1e28",
            "symbolStrokeWidth": 1.5,
            "rowPadding": 7
          }
        }
      }
    },
    {
      "data": {"values": [{"x1": -4.896, "x2": -2.494, "y1": 25.11, "y2": 29.77}]},
      "mark": {"type": "rect", "fill": "white", "fillOpacity": 0.85, "stroke": "#333344", "strokeWidth": 1, "cornerRadius": 8},
      "encoding": {
        "x": {"field": "x1", "type": "quantitative", "scale": {"domain": [-5, 5], "nice": false, "zero": false}},
        "x2": {"field": "x2"},
        "y": {"field": "y1", "type": "quantitative", "scale": {"domain": [-0.5, 30], "nice": false, "zero": false}},
        "y2": {"field": "y2"}
      }
    },
    {
      "data": {"values": [
        {"tx": -4.794, "ty": 29.15, "t": "Default cutoff (2-fold):"},
        {"tx": -4.611, "ty": 28.47, "t": "20 significant genes"},
        {"tx": -4.794, "ty": 27.14, "t": "1.5-fold cutoff:"},
        {"tx": -4.611, "ty": 26.46, "t": "121 significant genes"},
        {"tx": -4.611, "ty": 25.78, "t": "(+101 recovered)"}
      ]},
      "mark": {"type": "text", "align": "left", "baseline": "middle", "fontSize": 18.3, "font": "DejaVu Sans", "color": "#333344"},
      "encoding": {
        "x": {"field": "tx", "type": "quantitative", "scale": {"domain": [-5, 5], "nice": false, "zero": false}},
        "y": {"field": "ty", "type": "quantitative", "scale": {"domain": [-0.5, 30], "nice": false, "zero": false}},
        "text": {"field": "t"}
      }
    },
    {
      "data": {"values": [
        {"tx": 1.096, "ty": 28.58, "t": "|log2FC| = 1"},
        {"tx": 1.096, "ty": 27.91, "t": "default, 2-fold"}
      ]},
      "mark": {"type": "text", "align": "left", "baseline": "middle", "fontSize": 16.8, "font": "DejaVu Sans", "color": "#333344"},
      "encoding": {
        "x": {"field": "tx", "type": "quantitative", "scale": {"domain": [-5, 5], "nice": false, "zero": false}},
        "y": {"field": "ty", "type": "quantitative", "scale": {"domain": [-0.5, 30], "nice": false, "zero": false}},
        "text": {"field": "t"}
      }
    },
    {
      "data": {"values": [
        {"tx": 0.502, "ty": 21.36, "t": "|log2FC| = 0.585"},
        {"tx": 0.502, "ty": 20.69, "t": "1.5-fold"}
      ]},
      "mark": {"type": "text", "align": "right", "baseline": "middle", "fontSize": 16.8, "fontWeight": "bold", "font": "DejaVu Sans", "color": "#58b5bf"},
      "encoding": {
        "x": {"field": "tx", "type": "quantitative", "scale": {"domain": [-5, 5], "nice": false, "zero": false}},
        "y": {"field": "ty", "type": "quantitative", "scale": {"domain": [-0.5, 30], "nice": false, "zero": false}},
        "text": {"field": "t"}
      }
    },
    {
      "data": {"values": [{"tx": 5.018, "ty": -1.833, "t": "OmicsDesk"}]},
      "mark": {"type": "text", "align": "right", "baseline": "middle", "fontSize": 20, "fontWeight": "bold", "font": "DejaVu Sans", "color": "#58b5bf"},
      "encoding": {
        "x": {"field": "tx", "type": "quantitative", "scale": {"domain": [-5, 5], "nice": false, "zero": false}},
        "y": {"field": "ty", "type": "quantitative", "scale": {"domain": [-0.5, 30], "nice": false, "zero": false}},
        "text": {"field": "t"}
      }
    }
  ]
}
